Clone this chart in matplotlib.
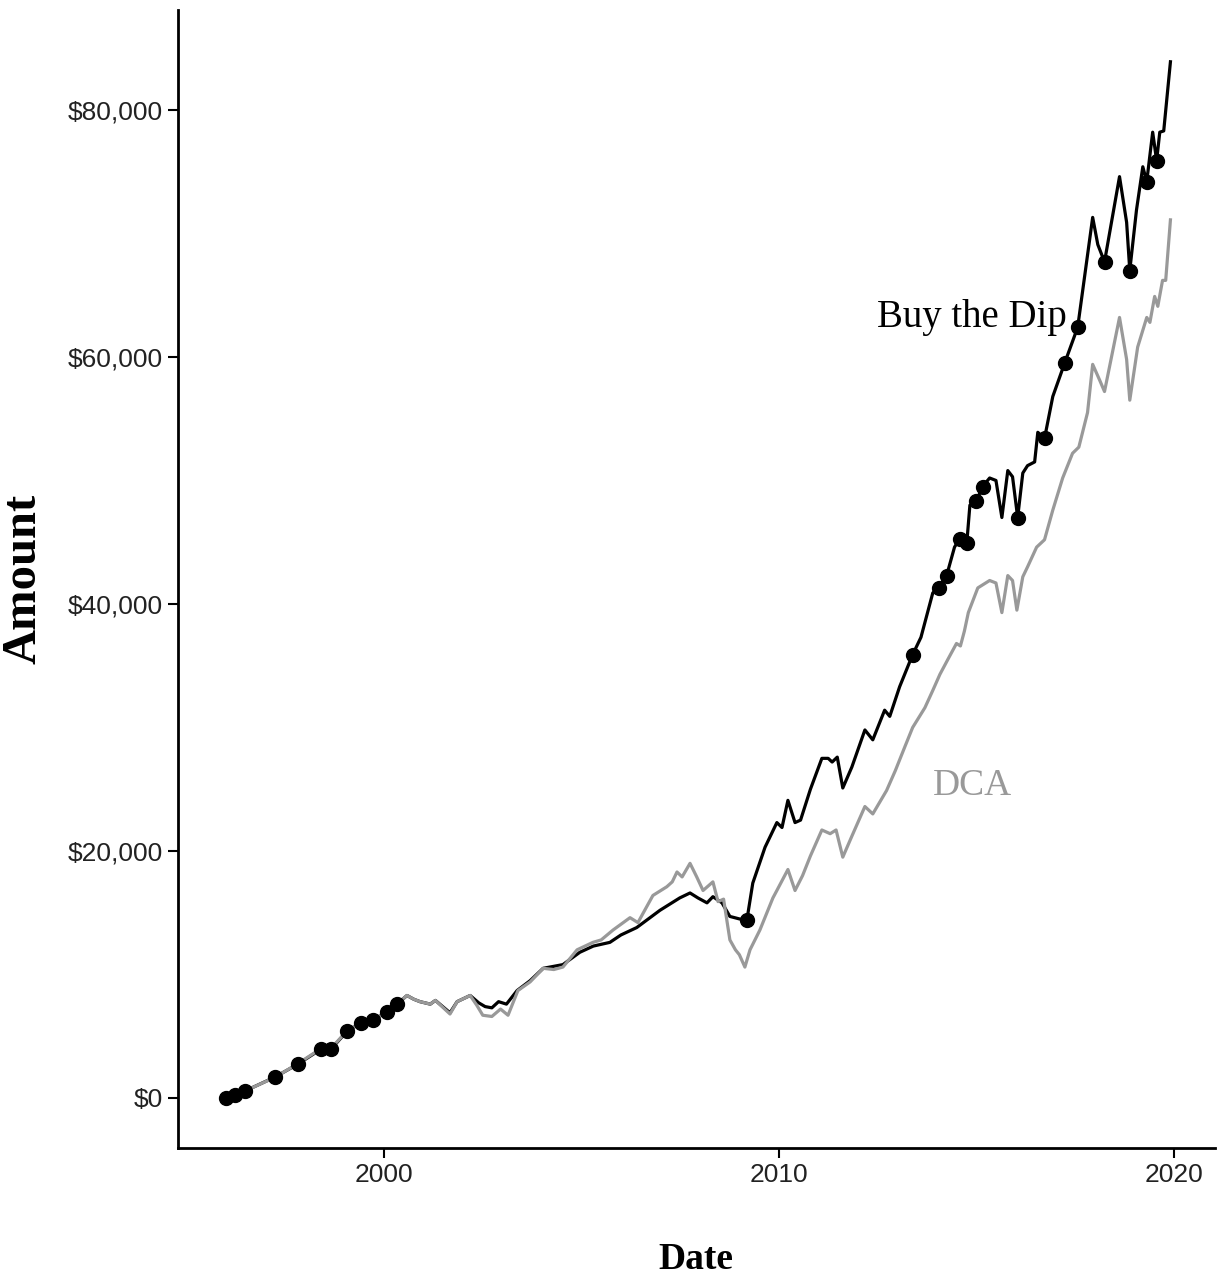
import matplotlib.pyplot as plt
from matplotlib.ticker import FuncFormatter

# decimal years, amounts in $ thousands
dca_dates = [1996.0, 1996.25, 1996.5, 1997.25, 1997.8, 1998.4, 1998.65, 1999.05, 1999.4, 1999.7,
             2000.08, 2000.33, 2000.58, 2000.75, 2000.91, 2001.17, 2001.3, 2001.67, 2001.85, 2002.18,
             2002.35, 2002.5, 2002.73, 2002.95, 2003.14, 2003.39, 2003.7, 2004.03, 2004.3, 2004.53,
             2004.89, 2005.29, 2005.5, 2005.8, 2006.23, 2006.43, 2006.81, 2007.16, 2007.3, 2007.42,
             2007.55, 2007.75, 2007.92, 2008.08, 2008.33, 2008.46, 2008.6, 2008.76, 2008.9, 2009.0,
             2009.14, 2009.27, 2009.52, 2009.85, 2009.95, 2010.23, 2010.41, 2010.6, 2010.8, 2011.09,
             2011.3, 2011.45, 2011.62, 2011.85, 2012.18, 2012.38, 2012.73, 2012.95, 2013.2, 2013.39,
             2013.7, 2013.9, 2014.08, 2014.28, 2014.5, 2014.6, 2014.7, 2014.8, 2015.04, 2015.34,
             2015.5, 2015.65, 2015.8, 2015.92, 2016.03, 2016.18, 2016.3, 2016.53, 2016.73, 2016.94,
             2017.19, 2017.44, 2017.6, 2017.82, 2017.95, 2018.13, 2018.25, 2018.63, 2018.81, 2018.89,
             2019.09, 2019.32, 2019.4, 2019.52, 2019.6, 2019.72, 2019.8, 2019.92]
dca_values = [0.0, 0.25, 0.6, 1.7, 2.75, 4.0, 4.0, 5.4, 6.1, 6.3,
              7.0, 7.6, 8.3, 8.0, 7.8, 7.6, 7.9, 6.8, 7.8, 8.3,
              7.5, 6.7, 6.6, 7.2, 6.7, 8.7, 9.4, 10.5, 10.4, 10.6,
              12.0, 12.6, 12.8, 13.6, 14.6, 14.2, 16.4, 17.1, 17.5, 18.3,
              17.9, 19.0, 17.9, 16.8, 17.5, 15.9, 16.1, 12.8, 12.0, 11.6,
              10.6, 12.0, 13.6, 16.2, 16.8, 18.5, 16.8, 18.0, 19.6, 21.7,
              21.4, 21.7, 19.5, 21.2, 23.6, 23.0, 24.9, 26.5, 28.5, 30.0,
              31.6, 33.0, 34.3, 35.5, 36.8, 36.6, 37.8, 39.3, 41.3, 41.9,
              41.7, 39.3, 42.3, 41.9, 39.5, 42.2, 43.0, 44.6, 45.2, 47.6,
              50.2, 52.2, 52.7, 55.5, 59.4, 58.1, 57.2, 63.2, 59.8, 56.5,
              60.8, 63.2, 62.8, 64.9, 64.1, 66.2, 66.2, 71.1]

dip_dates = [1996.0, 1996.23, 1996.48, 1997.24, 1997.82, 1998.41, 1998.66, 1999.06, 1999.42, 1999.72,
             2000.08, 2000.33, 2000.58, 2000.75, 2000.91, 2001.17, 2001.3, 2001.67, 2001.85, 2002.18,
             2002.4, 2002.56, 2002.73, 2002.9, 2003.1, 2003.37, 2003.7, 2004.03, 2004.53, 2004.96,
             2005.3, 2005.72, 2006.0, 2006.4, 2006.99, 2007.49, 2007.75, 2007.95, 2008.18, 2008.33,
             2008.56, 2008.76, 2009.0, 2009.19, 2009.34, 2009.65, 2009.95, 2010.08, 2010.23, 2010.41,
             2010.55, 2010.8, 2011.09, 2011.25, 2011.35, 2011.48, 2011.62, 2011.85, 2012.18, 2012.38,
             2012.68, 2012.81, 2013.06, 2013.39, 2013.6, 2013.9, 2014.05, 2014.25, 2014.45, 2014.58,
             2014.76, 2014.84, 2015.0, 2015.16, 2015.34, 2015.5, 2015.65, 2015.8, 2015.92, 2016.05,
             2016.18, 2016.3, 2016.48, 2016.56, 2016.73, 2016.94, 2017.24, 2017.57, 2017.95, 2018.08,
             2018.25, 2018.63, 2018.81, 2018.89, 2019.06, 2019.22, 2019.32, 2019.47, 2019.57, 2019.65,
             2019.75, 2019.92]
dip_values = [0.0, 0.24, 0.57, 1.7, 2.75, 3.97, 3.97, 5.4, 6.1, 6.3,
              7.0, 7.6, 8.3, 8.0, 7.8, 7.6, 7.9, 6.9, 7.8, 8.3,
              7.7, 7.4, 7.3, 7.8, 7.6, 8.7, 9.5, 10.5, 10.8, 11.8,
              12.3, 12.6, 13.2, 13.8, 15.2, 16.2, 16.6, 16.2, 15.8, 16.3,
              15.8, 14.7, 14.5, 14.4, 17.4, 20.3, 22.3, 21.9, 24.1, 22.3,
              22.5, 25.0, 27.5, 27.5, 27.2, 27.6, 25.1, 26.8, 29.8, 29.0,
              31.4, 30.9, 33.3, 35.9, 37.3, 40.9, 41.3, 42.3, 44.6, 45.3,
              44.9, 48.0, 48.3, 49.5, 50.2, 50.0, 47.0, 50.8, 50.3, 47.0,
              50.6, 51.2, 51.5, 53.9, 53.4, 56.8, 59.5, 62.4, 71.3, 69.1,
              67.7, 74.6, 70.9, 67.0, 71.9, 75.4, 74.2, 78.2, 75.9, 78.2,
              78.3, 83.9]

# months where the dip strategy bought
buy_dates = [1996.0, 1996.23, 1996.48, 1997.24, 1997.82, 1998.41, 1998.66, 1999.06, 1999.42, 1999.72,
             2000.08, 2000.33, 2009.19, 2013.39, 2014.05, 2014.25, 2014.58, 2014.76, 2015.0, 2015.16,
             2016.05, 2016.73, 2017.24, 2017.57, 2018.25, 2018.89, 2019.32, 2019.57]
buy_values = [0.0, 0.24, 0.57, 1.7, 2.75, 3.97, 3.97, 5.4, 6.1, 6.3,
              7.0, 7.6, 14.4, 35.9, 41.3, 42.3, 45.3, 44.9, 48.3, 49.5,
              47.0, 53.4, 59.5, 62.4, 67.7, 67.0, 74.2, 75.9]

serif = ['Liberation Serif', 'DejaVu Serif']

fig = plt.figure(figsize=(12.21, 12.86), dpi=100)
ax = fig.add_axes([0.1458, 0.1073, 0.849, 0.885])

ax.plot(dip_dates, [v * 1000 for v in dip_values], color='black', lw=2.3, zorder=2)
ax.plot(dca_dates, [v * 1000 for v in dca_values], color='#999999', lw=2.3, zorder=3)
ax.plot(buy_dates, [v * 1000 for v in buy_values], 'o', color='black', ms=10, zorder=4)

ax.text(2014.9, 63200, 'Buy the Dip', family=serif, fontsize=28, color='black',
        ha='center', va='center')
ax.text(2014.9, 25300, 'DCA', family=serif, fontsize=27, color='#999999',
        ha='center', va='center')

ax.set_xlim(1994.78, 2021.04)
ax.set_ylim(-4050, 88100)
ax.set_xticks([2000, 2010, 2020])
ax.set_yticks([0, 20000, 40000, 60000, 80000])
ax.yaxis.set_major_formatter(FuncFormatter(lambda v, p: '${:,.0f}'.format(v)))

for s in ['top', 'right']:
    ax.spines[s].set_visible(False)
for s in ['left', 'bottom']:
    ax.spines[s].set_linewidth(2)
ax.tick_params(length=7, width=1.5, labelsize=19, labelcolor='#222222', pad=4)
for lab in ax.get_xticklabels() + ax.get_yticklabels():
    lab.set_family(['Liberation Sans', 'DejaVu Sans'])

ax.set_xlabel('Date', family=serif, fontweight='bold', fontsize=27)
ax.set_ylabel('Amount', family=serif, fontweight='bold', fontsize=35)
ax.xaxis.set_label_coords(0.5, -0.083)
ax.yaxis.set_label_coords(-0.128, 0.5)

fig.savefig('out.png', dpi=100)
